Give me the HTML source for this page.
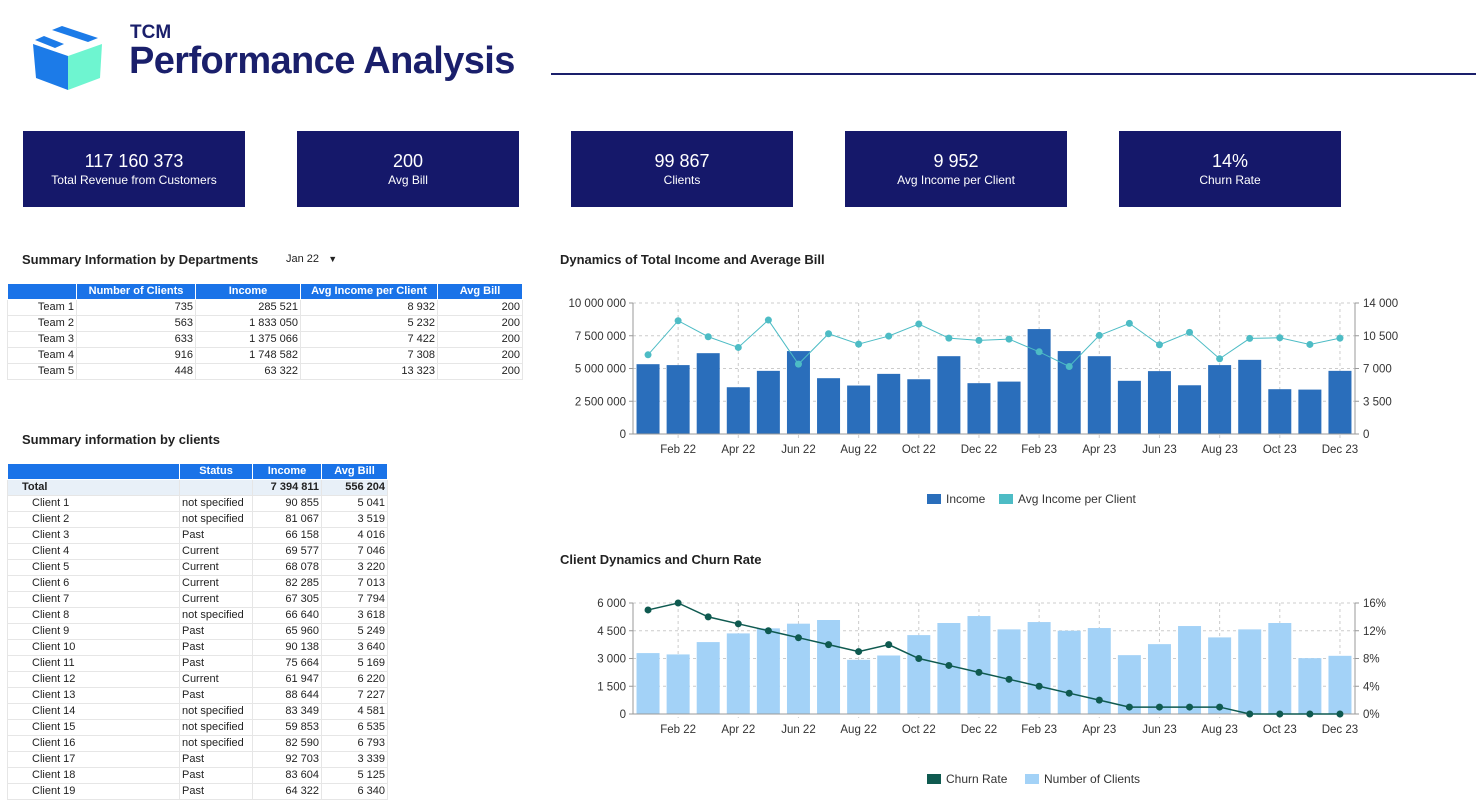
<!DOCTYPE html>
<html><head><meta charset="utf-8"><style>
body{margin:0;width:1484px;height:812px;overflow:hidden;background:#fff;font-family:"Liberation Sans",Arial,sans-serif;position:relative}
.abs{position:absolute}
.kpi{position:absolute;top:131px;width:222px;height:76px;background:#15186a;color:#fff;text-align:center}
.kpi .v{font-size:18px;margin-top:20px;line-height:20px}
.kpi .l{font-size:12px;margin-top:2px}
.h2{position:absolute;font-size:13px;font-weight:bold;color:#222}
table{border-collapse:collapse;position:absolute;font-size:11px;color:#222}
td,th{height:15px;padding:0 2px;border:1px solid #e6e6e6;white-space:nowrap;line-height:15px}
th{background:#1a73e8;color:#fff;font-weight:bold;text-align:center;border-color:#fff}
td.n{text-align:right}
</style></head><body>
<svg class="abs" style="left:30px;top:20px" width="76" height="72">
<polygon points="3,24 38,36 38,70 6,58" fill="#1c7be8"/>
<polygon points="38,36 72,24 70,58 38,70" fill="#6ef5d0"/>
<polygon points="5,20 14,16 34,24 25,28" fill="#1c7be8"/>
<polygon points="22,10 32,6 68,18 58,22" fill="#1c7be8"/>
</svg>
<div class="abs" style="left:130px;top:22px;font-size:19px;font-weight:bold;color:#1a1f6b">TCM</div>
<div class="abs" style="left:129px;top:40px;font-size:38px;font-weight:bold;color:#1a1f6b;letter-spacing:-0.6px">Performance Analysis</div>
<div class="abs" style="left:551px;top:73px;width:925px;height:2px;background:#1a1f6b"></div>

<div class="kpi" style="left:23px"><div class="v">117 160 373</div><div class="l">Total Revenue from Customers</div></div>
<div class="kpi" style="left:297px"><div class="v">200</div><div class="l">Avg Bill</div></div>
<div class="kpi" style="left:571px"><div class="v">99 867</div><div class="l">Clients</div></div>
<div class="kpi" style="left:845px"><div class="v">9 952</div><div class="l">Avg Income per Client</div></div>
<div class="kpi" style="left:1119px"><div class="v">14%</div><div class="l">Churn Rate</div></div>

<div class="h2" style="left:22px;top:252px">Summary Information by Departments</div>
<div class="abs" style="left:286px;top:253px;font-size:11px;color:#222">Jan 22 &nbsp;&nbsp;<span style="font-size:9px">▼</span></div>
<table style="left:7px;top:283px;width:516px">
<tr><th style="width:64px"></th><th style="width:114px">Number of Clients</th><th style="width:100px">Income</th><th style="width:132px">Avg Income per Client</th><th>Avg Bill</th></tr>
<tr><td class="n">Team 1</td><td class="n">735</td><td class="n">285 521</td><td class="n">8 932</td><td class="n">200</td></tr>
<tr><td class="n">Team 2</td><td class="n">563</td><td class="n">1 833 050</td><td class="n">5 232</td><td class="n">200</td></tr>
<tr><td class="n">Team 3</td><td class="n">633</td><td class="n">1 375 066</td><td class="n">7 422</td><td class="n">200</td></tr>
<tr><td class="n">Team 4</td><td class="n">916</td><td class="n">1 748 582</td><td class="n">7 308</td><td class="n">200</td></tr>
<tr><td class="n">Team 5</td><td class="n">448</td><td class="n">63 322</td><td class="n">13 323</td><td class="n">200</td></tr>
</table>

<div class="h2" style="left:22px;top:432px">Summary information by clients</div>
<table style="left:7px;top:463px;width:381px" id="ct">
<tr><th style="width:167px"></th><th style="width:68px">Status</th><th style="width:64px">Income</th><th>Avg Bill</th></tr>
<tr style="background:#e8f0f8;font-weight:bold"><td style="padding-left:14px">Total</td><td></td><td class="n">7 394 811</td><td class="n">556 204</td></tr>
</table>

<div class="h2" style="left:560px;top:252px">Dynamics of Total Income and Average Bill</div>
<svg id="c1" class="abs" style="left:0;top:0" width="1484" height="812"></svg>
<div class="h2" style="left:560px;top:552px">Client Dynamics and Churn Rate</div>

<script>
const clients=[["Client 1","not specified","90 855","5 041"],["Client 2","not specified","81 067","3 519"],["Client 3","Past","66 158","4 016"],["Client 4","Current","69 577","7 046"],["Client 5","Current","68 078","3 220"],["Client 6","Current","82 285","7 013"],["Client 7","Current","67 305","7 794"],["Client 8","not specified","66 640","3 618"],["Client 9","Past","65 960","5 249"],["Client 10","Past","90 138","3 640"],["Client 11","Past","75 664","5 169"],["Client 12","Current","61 947","6 220"],["Client 13","Past","88 644","7 227"],["Client 14","not specified","83 349","4 581"],["Client 15","not specified","59 853","6 535"],["Client 16","not specified","82 590","6 793"],["Client 17","Past","92 703","3 339"],["Client 18","Past","83 604","5 125"],["Client 19","Past","64 322","6 340"]];
const ct=document.getElementById('ct');
clients.forEach(r=>{const tr=document.createElement('tr');


tr.innerHTML=`<td style="padding-left:24px">${r[0]}</td><td>${r[1]}</td><td class="n">${r[2]}</td><td class="n">${r[3]}</td>`;ct.appendChild(tr);});

const months=["Jan 22","Feb 22","Mar 22","Apr 22","May 22","Jun 22","Jul 22","Aug 22","Sep 22","Oct 22","Nov 22","Dec 22","Jan 23","Feb 23","Mar 23","Apr 23","May 23","Jun 23","Jul 23","Aug 23","Sep 23","Oct 23","Nov 23","Dec 23"];
const income=[5330000,5260000,6170000,3570000,4820000,6330000,4260000,3700000,4590000,4180000,5940000,3880000,4000000,8010000,6330000,5940000,4060000,4800000,3720000,5260000,5660000,3420000,3390000,4820000];
const avgIncome=[8464,12107,10393,9250,12179,7464,10714,9607,10464,11750,10250,10000,10143,8786,7214,10536,11821,9536,10857,8036,10214,10286,9571,10250];
const numClients=[3293,3220,3887,4357,4629,4882,5081,2928,3163,4265,4919,5295,4574,4970,4502,4647,3181,3777,4755,4141,4574,4919,3018,3145];
const churn=[15,16,14,13,12,11,10,9,10,8,7,6,5,4,3,2,1,1,1,1,0,0,0,0];
const leftTicks1=["0","2 500 000","5 000 000","7 500 000","10 000 000"];
const rightTicks1=["0","3 500","7 000","10 500","14 000"];
const leftTicks2=["0","1 500","3 000","4 500","6 000"];
const rightTicks2=["0%","4%","8%","12%","16%"];

const svg=document.getElementById('c1');const NS='http://www.w3.org/2000/svg';
function mk(t,a,txt){const e=document.createElementNS(NS,t);for(const k in a)e.setAttribute(k,a[k]);if(txt!==undefined)e.textContent=txt;svg.appendChild(e);return e;}
const X0=633,X1=1355,bw=(X1-X0)/months.length;
const xc=i=>X0+bw*(i+0.5);
function chart(top,bottom,lmax,rmax,lt,rt,bars,barCol,line,lineCol,lineW,r,legend,nm){
 const yl=v=>bottom-(v/lmax)*(bottom-top), yr=v=>bottom-(v/rmax)*(bottom-top);
 lt.forEach((t,i)=>{const y=bottom-i*(bottom-top)/4;
  if(i>0){const g=mk('line',{x1:X0,x2:X1,y1:y,y2:y,stroke:'#ccc','stroke-dasharray':'3,3'});}
  const a=mk('text',{x:626,y:y+4,'text-anchor':'end','font-size':11.5,fill:'#333'},t);
  const b=mk('text',{x:1363,y:y+4,'font-size':11.5,fill:'#333'},rt[i]);
  mk('line',{x1:X0-4,x2:X0,y1:y,y2:y,stroke:'#999'});mk('line',{x1:X1,x2:X1+4,y1:y,y2:y,stroke:'#999'});
 });
 months.forEach((m,i)=>{if(i%2==1){const x=xc(i);mk('line',{x1:x,x2:x,y1:top,y2:bottom+4,stroke:'#ccc','stroke-dasharray':'3,3'});
  const t=mk('text',{x:x,y:bottom+19,'text-anchor':'middle','font-size':11.5,fill:'#333'},m);}});
 bars.forEach((v,i)=>{const b=mk('rect',{x:xc(i)-11.5,y:yl(v),width:23,height:bottom-yl(v),fill:barCol});});
 mk('line',{x1:X0,x2:X0,y1:top,y2:bottom,stroke:'#999'});mk('line',{x1:X1,x2:X1,y1:top,y2:bottom,stroke:'#999'});
 mk('line',{x1:X0,x2:X1,y1:bottom,y2:bottom,stroke:'#999'});
 const p=mk('polyline',{points:line.map((v,i)=>xc(i)+','+yr(v)).join(' '),fill:'none',stroke:lineCol,'stroke-width':lineW});
 line.forEach((v,i)=>{const c=mk('circle',{cx:xc(i),cy:yr(v),r:r,fill:lineCol});});
 let lx=legend.x;legend.items.forEach(it=>{mk('rect',{x:lx,y:legend.y-9,width:14,height:10,fill:it[1]});const t=mk('text',{x:lx+19,y:legend.y,'font-size':12,fill:'#333'},it[0]);lx+=19+it[0].length*6.5+14;});
}
chart(303,434,10000000,14000,leftTicks1,rightTicks1,income,'#2a6ebb',avgIncome,'#4dbcc5',1,3.5,{x:927,y:503,items:[['Income','#2a6ebb'],['Avg Income per Client','#4dbcc5']]},'income');
chart(603,714,6000,16,leftTicks2,rightTicks2,numClients,'#a3d2f7',churn,'#0f5a50',1.5,3.5,{x:927,y:783,items:[['Churn Rate','#0f5a50'],['Number of Clients','#a3d2f7']]},'clients');
</script>
</body></html>
